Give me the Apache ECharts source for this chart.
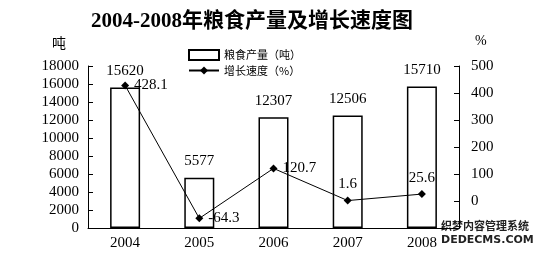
<!DOCTYPE html>
<html><head><meta charset="utf-8">
<script src="https://cdn.jsdelivr.net/npm/echarts@6/dist/echarts.min.js"></script>
<style>html,body{margin:0;padding:0;background:#fff}#c{width:548px;height:257px}</style>
</head><body><div id="c"></div>
<script>
const categories = ['2004','2005','2006','2007','2008'];
const grainOutput = [15620, 5577, 12307, 12506, 15710];
const growthRate = [428.1, -64.3, 120.7, 1.6, 25.6];
const leftTicks = [0, 18000, 2000];
const rightTicks = [-100, 500, 100];
const rateLabelPos = ['right', 'right', 'right', 'top', 'top'];

const FONT = "'Liberation Serif','Noto Sans CJK SC',serif";
const chart = echarts.init(document.getElementById('c'), null, {renderer:'canvas'});
chart.setOption({
  animation:false,
  backgroundColor:'#fff',
  textStyle:{fontFamily:FONT, color:'#000'},
  title:{text:'2004-2008年粮食产量及增长速度图', left:247, textAlign:'center', top:6,
    textStyle:{fontFamily:FONT, fontSize:21, fontWeight:'bold', color:'#000'}},
  legend:{orient:'vertical', left:183, top:44, itemGap:4, itemWidth:30, itemHeight:10,
    textStyle:{fontFamily:"'Noto Sans CJK SC',sans-serif", fontSize:11, color:'#000'},
    data:[{name:'粮食产量（吨）', icon:'rect'}, {name:'增长速度（%）'}]},
  grid:{left:88, right:89, top:66, bottom:29},
  xAxis:{type:'category', data:categories, boundaryGap:true,
    axisLine:{lineStyle:{color:'#000', width:1}},
    axisTick:{inside:true, length:5, interval:0, lineStyle:{color:'#000'}},
    axisLabel:{color:'#000', fontFamily:FONT, fontSize:15, margin:8}},
  yAxis:[
    {type:'value', min:leftTicks[0], max:leftTicks[1], interval:leftTicks[2],
     axisLine:{show:true, lineStyle:{color:'#000'}},
     axisTick:{show:true, inside:true, length:5, lineStyle:{color:'#000'}},
     splitLine:{show:false},
     axisLabel:{color:'#000', fontFamily:FONT, fontSize:15, margin:9, formatter:v => String(v)}},
    {type:'value', min:rightTicks[0], max:rightTicks[1], interval:rightTicks[2],
     axisLine:{show:true, lineStyle:{color:'#000'}},
     axisTick:{show:true, inside:true, length:5, lineStyle:{color:'#000'}},
     splitLine:{show:false},
     axisLabel:{color:'#000', fontFamily:FONT, fontSize:15, margin:12,
       formatter:v => v < 0 ? '' : String(v)}}
  ],
  series:[
    {name:'粮食产量（吨）', type:'bar', yAxisIndex:0, data:grainOutput, barWidth:30,
     itemStyle:{color:'#fff', borderColor:'#000', borderWidth:1.5},
     label:{show:true, position:'top', distance:9, color:'#000', fontFamily:FONT, fontSize:15}},
    {name:'增长速度（%）', type:'line', yAxisIndex:1, z:5,
     data:growthRate.map((v,i)=>({value:v, label:{position:rateLabelPos[i]}})),
     symbol:'diamond', symbolSize:8,
     lineStyle:{color:'#000', width:1}, itemStyle:{color:'#000'},
     label:{show:true, color:'#000', fontFamily:FONT, fontSize:15, distance:5}}
  ],
  graphic:[
    {type:'text', left:52, top:36, style:{text:'吨', font:"14px 'Noto Sans CJK SC'", fill:'#000'}},
    {type:'text', left:475, top:34, style:{text:'%', font:"14px "+FONT, fill:'#000'}},
    {type:'text', left:441, top:220, style:{text:'织梦内容管理系统', font:"bold 11px 'Noto Sans CJK SC'", fill:'#222'}},
    {type:'text', left:441, top:235, style:{text:'DEDECMS.COM', font:"bold 11px 'DejaVu Sans'", fill:'#222'}}
  ]
});
</script></body></html>
